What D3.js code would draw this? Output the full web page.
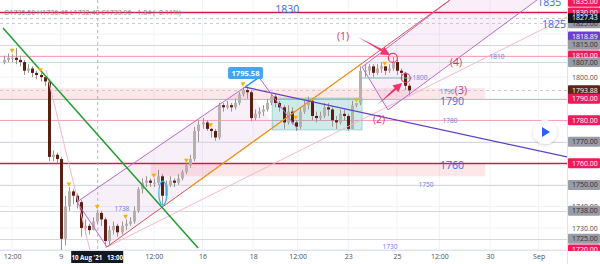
<!DOCTYPE html>
<html>
<head>
<meta charset="utf-8">
<script src="https://cdn.jsdelivr.net/npm/d3@7"></script>
<style>
  body { margin: 0; background: #fff; }
  svg { display: block; font-family: "Open Sans", Roboto, sans-serif; }
</style>
</head>
<body>
<svg id="chart" width="600" height="264"></svg>
<script>
// ---- candles (hourly, gaps removed -> bar index) ----
const firstOpen = 1807;
const closes = [1808,1809,1809,1808,1807,1803,1804,1802,1801,1800,
  1798,1763,1764,1762,1725,1740,1747,1745,1742,1730,
  1731,1729,1733,1737,1734,1724,1729,1731,1728,1731,
  1732,1733,1738,1748,1751,1752,1751,1751,1754,1745,
  1750,1752,1751,1753,1756,1759,1762,1775,1778,1779,
  1776,1775,1772,1787,1786,1787,1786,1788,1792,1794,
  1793,1781,1783,1784,1785,1788,1791,1788,1786,1779,
  1784,1779,1777,1784,1787,1789,1782,1781,1782,1786,
  1785,1780,1779,1783,1782,1776,1787,1788,1803,1803,
  1805,1802,1804,1805,1803,1804,1807,1803,1802,1796,1793.88];
const highs = [1810,1811,1810.5,1813.5,1810,1808,1806,1805,1803,1802,
  1800,1799,1766,1765,1763,1745,1749,1748,1746,1743,
  1734,1732,1735,1738.5,1738,1735,1731,1733,1732,1733,
  1734,1735,1740,1749,1753,1754,1753,1753,1757,1755,
  1752,1754,1753,1755,1757,1760,1764,1777,1780,1781,
  1780,1776.5,1776,1788,1788,1789,1788,1790,1793,1795.4,
  1795.58,1794,1785,1786,1787,1790,1792,1792,1789,1787,
  1787,1786,1780,1786,1789,1791,1790,1784,1784,1788,
  1788,1786,1782,1785,1785,1783,1789,1788,1805,1806,
  1806,1806,1806,1807,1805,1806,1809.3,1808,1804,1802.5,1797];
const lows = [1806,1807,1807,1806,1805,1801,1802,1800,1799,1798,
  1796,1761,1761,1760,1716,1722,1738,1741,1739,1726,
  1727,1727,1729,1732,1731,1721.5,1722,1727,1726,1727,
  1729,1731,1732,1737,1746,1749,1749,1749,1750,1741,
  1744,1749,1749,1750,1752,1755,1758,1761,1770,1776,
  1775,1772,1770.5,1771,1784,1785,1784,1785,1787,1791,
  1790,1779.5,1780,1781,1782,1784,1787,1786,1784,1776,
  1778,1778,1775,1776,1783,1785,1780,1779,1780,1781,
  1782,1777,1776,1778,1780,1775,1776,1786,1787,1800,
  1801,1800,1801,1802,1801,1802,1803,1801,1799,1794,1791];

// pivot markers [bar, price]
const pivots = [[2,1812.5],[9,1803.5],[16,1750.5],[23,1740],[30,1735.5],[37,1754.5],
  [45,1761.5],[51,1778],[59,1797],[72,1781.5],[87,1789.5],[94,1806.5]];

// ---- axes ----
const timeLabels = ["12:00","9","12:00","16","18","12:00","23","25","12:00","30","Sep"];
const timeBars = [2, 14, 37, 49, 61.5, 72.5, 85, 97, 107.5, 120, 132];
const crossBar = 23;
const crossLabel = "10 Aug '21   13:00";
const priceTicks = [1720,1730,1740,1750,1760,1770,1780,1790,1800,1810,1820,1830];
const ohlcText = "O1735.50 H1736.46 L1732.40 C1733.96 −1.84 (−0.11%)";

// ---- horizontal levels ----
const levelPrices = [1830, 1827.43, 1825, 1815, 1810, 1807, 1793.88, 1790, 1780, 1770, 1760, 1750, 1738, 1725, 1720];
const levelKinds  = ["red","dash","dash","grey","pink","grey","dash","pink","pink","grey","red","grey","grey","grey","pink"];
const bandFrom  = [1790, 1754];
const bandTo    = [1794.9, 1760];
const bandStart = [-1, 36.2];
const bandEnd   = [118.8, 118.8];

// ---- price scale boxes ----
const boxPrices = [1835, 1830, 1825, 1827.43, 1818.89, 1815, 1810, 1807, 1793.88, 1790, 1780, 1770, 1760, 1750, 1738, 1725, 1720];
const boxKinds  = ["red","red","grey","black","purple","grey","red","grey","brown","red","red","grey","red","grey","grey","grey","red"];

// ---- level texts ----
const levelTexts  = ["1835","1830","1825","1810","1800","1790","1790","1780","1760","1750","1738","1730"];
const levelTextAt = [[134.6,1834.9],[69.9,1831.6],[135.8,1824.7],[121.7,1809.4],[102.7,1799.6],[109.4,1793.1],
  [110.6,1788.9],[110.1,1779.7],[110.6,1759.2],[104.2,1750],[29.1,1738.8],[95.3,1721.2]];
const levelTextBig = [1,1,1,0,0,0,1,0,1,0,0,0];

const waveTexts = ["(1)","(2)","(3)","(4)"];
const waveAt = [[83.7,1819.1],[92.6,1780.6],[112.8,1794.0],[111.6,1807.0]];

// ---- drawings [bar, price] ----
const greenLine = [[-0.26,1822.8],[47.9,1720.7]];
const redLine = [[25.4,1721.2],[110.1,1835.8]];
const orangeLine = [[45.9,1748.9],[88.4,1806.4]];
const chan1 = [[18.0,1742.1],[25.4,1721.2],[66.9,1777.3],[59.5,1795.4]];
const chan2 = [[88.4,1804.7],[94.8,1784.8],[131.6,1835.8],[110.1,1835.8]];
const indigoLine = [[59.5,1795.4],[139,1763]];
const pinkSteep = [[10.36,1803.3],[21.2,1719.8]];
const pinkShallow = [[24.9,1720.7],[139,1827.9]];
const purpleThin = [[62.7,1800.5],[72.6,1775.5]];
const peakPoint = [59.5,1795.4];
const peakLabel = "1795.58";
const tealBox = [[66.2,1790.3],[88.4,1775.5]];
const midLine = [[88.4,1799.6],[100.7,1799.6]];
const circles = [[96.0,1808.9],[99.2,1799.6]];
const arrows = [[[87.4,1818.6],[95.3,1810.3]], [[92.1,1787.1],[98.3,1797.3]]];
const ellipseAt = [39.2,1746.2];

// ---- layout ----
const W = 600, H = 264, plotW = 567, plotH = 250;
const x = d3.scaleLinear().domain([-1, 139]).range([0, plotW]);
const y = d3.scaleLinear().domain([1719.8, 1835.8]).range([plotH, 0]);
const P = d => [x(d[0]), y(d[1])];

const svg = d3.select("#chart");
svg.append("defs").append("clipPath").attr("id", "plot")
  .append("rect").attr("width", plotW).attr("height", plotH);
svg.select("defs").append("filter").attr("id", "sh")
  .append("feDropShadow").attr("dx", 0).attr("dy", 1).attr("stdDeviation", 1.5).attr("flood-opacity", 0.18);

const g = svg.append("g").attr("clip-path", "url(#plot)");

// grid
g.selectAll(".hg").data(priceTicks).join("line")
  .attr("x1", 0).attr("x2", plotW).attr("y1", d => y(d)).attr("y2", d => y(d))
  .attr("stroke", "#f0f3fa");
g.selectAll(".vg").data(timeBars).join("line")
  .attr("x1", d => x(d)).attr("x2", d => x(d)).attr("y1", 0).attr("y2", plotH)
  .attr("stroke", "#f0f3fa");

// bands
g.selectAll(".band").data(bandFrom).join("rect")
  .attr("x", (d, i) => x(bandStart[i])).attr("width", (d, i) => x(bandEnd[i]) - x(bandStart[i]))
  .attr("y", (d, i) => y(bandTo[i])).attr("height", (d, i) => y(d) - y(bandTo[i]))
  .attr("fill", "rgba(242,54,69,0.12)");

// channel fills
const poly = d3.line().x(d => x(d[0])).y(d => y(d[1]));
g.append("path").attr("d", poly(chan1) + "Z").attr("fill", "rgba(156,39,176,0.07)");
g.append("path").attr("d", poly(chan2) + "Z").attr("fill", "rgba(206,100,190,0.10)");

// levels
const levelStyle = {
  red:  { c: "#d9184e", w: 1.4, dash: null },
  pink: { c: "#f4a6b8", w: 1.2, dash: null },
  grey: { c: "#d6d8de", w: 1, dash: null },
  dash: { c: "#c9cbd2", w: 1, dash: "3,3" }
};
g.selectAll(".lvl").data(levelPrices).join("line")
  .attr("x1", 0).attr("x2", plotW)
  .attr("y1", d => Math.round(y(d)) + 0.5).attr("y2", d => Math.round(y(d)) + 0.5)
  .attr("stroke", (d, i) => levelStyle[levelKinds[i]].c)
  .attr("stroke-width", (d, i) => levelStyle[levelKinds[i]].w)
  .attr("stroke-dasharray", (d, i) => levelStyle[levelKinds[i]].dash);

// teal rectangle
g.append("rect")
  .attr("x", x(tealBox[0][0])).attr("y", y(tealBox[0][1]))
  .attr("width", x(tealBox[1][0]) - x(tealBox[0][0]))
  .attr("height", y(tealBox[1][1]) - y(tealBox[0][1]))
  .attr("fill", "rgba(38,166,154,0.22)").attr("stroke", "rgba(38,166,154,0.35)");

// crosshair
g.append("line").attr("x1", x(crossBar) + 0.5).attr("x2", x(crossBar) + 0.5)
  .attr("y1", 0).attr("y2", plotH).attr("stroke", "#b2b5be").attr("stroke-dasharray", "3,3");

// candles
const opens = closes.map((c, i) => i === 0 ? firstOpen : closes[i - 1]);
const cg = g.append("g");
cg.selectAll(".wick").data(closes).join("line")
  .attr("x1", (d, i) => Math.round(x(i)) + 0.5).attr("x2", (d, i) => Math.round(x(i)) + 0.5)
  .attr("y1", (d, i) => y(highs[i])).attr("y2", (d, i) => y(lows[i]))
  .attr("stroke", "#9e9593");
cg.selectAll(".body").data(closes).join("rect")
  .attr("x", (d, i) => Math.round(x(i)) - 1).attr("width", 3)
  .attr("y", (d, i) => y(Math.max(d, opens[i])))
  .attr("height", (d, i) => Math.max(1, Math.abs(y(d) - y(opens[i]))))
  .attr("fill", (d, i) => d >= opens[i] ? "#b8b0ad" : "#5c1d12");

// lines
const seg = (pts, color, w, dash) => g.append("path").attr("d", poly(pts))
  .attr("fill", "none").attr("stroke", color).attr("stroke-width", w).attr("stroke-dasharray", dash || null);
seg(pinkSteep, "#f7b6c8", 1);
seg(pinkShallow, "#f7b6c8", 1);
seg([chan1[3], chan1[0], chan1[1]], "#b86ad0", 1);
seg([chan2[3], chan2[0], chan2[1], chan2[2]], "#b86ad0", 1);
seg(redLine, "#e05050", 1);
seg(orangeLine, "#f39c12", 1.2);
seg(greenLine, "#1e9e2e", 1.5);
seg(indigoLine, "#5e3fc4", 1.2);
seg(purpleThin, "#b86ad0", 1);
seg(midLine, "#86b8b2", 1.2);
seg([peakPoint, [62.7, 1799.6]], "#2196f3", 1.5);

// cyan ellipse
g.append("ellipse").attr("cx", x(ellipseAt[0])).attr("cy", y(ellipseAt[1]))
  .attr("rx", 4).attr("ry", 12).attr("fill", "none").attr("stroke", "#29b6f6").attr("stroke-width", 1.2);

// pivots
g.selectAll(".pv").data(pivots).join("path")
  .attr("d", d3.symbol(d3.symbolTriangle, 10))
  .attr("transform", d => `translate(${x(d[0])},${y(d[1])}) rotate(180)`)
  .attr("fill", "#f5b400");

// circles and arrows
g.selectAll(".cir").data(circles).join("circle")
  .attr("cx", d => x(d[0])).attr("cy", d => y(d[1])).attr("r", 4.5)
  .attr("fill", "none").attr("stroke", "#ef3b6a").attr("stroke-width", 1.2);
arrows.forEach(a => {
  const [x1, y1] = P(a[0]), [x2, y2] = P(a[1]);
  const ang = Math.atan2(y2 - y1, x2 - x1), L = 9, Wd = 4.5;
  const s = Math.sin(ang), c = Math.cos(ang);
  const bx = x2 - L * c, by = y2 - L * s;
  g.append("path")
    .attr("d", `M${x1},${y1}L${bx - 1.2 * s},${by + 1.2 * c}L${bx - Wd * s},${by + Wd * c}L${x2},${y2}L${bx + Wd * s},${by - Wd * c}L${bx + 1.2 * s},${by - 1.2 * c}Z`)
    .attr("fill", "#f0356a");
});

// peak label
const [px, py] = P(peakPoint);
g.append("rect").attr("x", px - 17).attr("y", py - 20).attr("width", 35).attr("height", 12).attr("rx", 2)
  .attr("fill", "#42a5f5");
g.append("text").attr("x", px + 0.5).attr("y", py - 11.5).attr("text-anchor", "middle")
  .attr("font-size", 7.5).attr("font-weight", 700).attr("fill", "#fff").text(peakLabel);

// level texts
g.selectAll(".lt").data(levelTexts).join("text")
  .attr("x", (d, i) => x(levelTextAt[i][0])).attr("y", (d, i) => y(levelTextAt[i][1]))
  .attr("dy", "0.35em").attr("text-anchor", "middle")
  .attr("font-size", (d, i) => levelTextBig[i] ? 10.5 : 6.5)
  .attr("fill", (d, i) => levelTextBig[i] ? "#3d6be0" : "#5a7fe0").text(d => d);

g.selectAll(".wt").data(waveTexts).join("text")
  .attr("x", (d, i) => x(waveAt[i][0])).attr("y", (d, i) => y(waveAt[i][1]))
  .attr("dy", "0.35em").attr("text-anchor", "middle").attr("font-size", 10.5)
  .attr("fill", "#d6336c").text(d => d);

// ohlc header
svg.append("text").attr("x", 4).attr("y", 15).attr("font-size", 7).attr("fill", "#8a7d7d").text(ohlcText);

// play button
svg.append("circle").attr("cx", 545).attr("cy", 132).attr("r", 12).attr("fill", "#fff").attr("filter", "url(#sh)");
svg.append("path").attr("d", "M542,127L550,132L542,137Z").attr("fill", "#2962ff");

// price axis (plain labels only where no price box sits on them)
svg.append("line").attr("x1", plotW + 0.5).attr("x2", plotW + 0.5).attr("y1", 0).attr("y2", H).attr("stroke", "#e0e3eb");
svg.append("line").attr("x1", 0).attr("x2", W).attr("y1", plotH + 0.5).attr("y2", plotH + 0.5).attr("stroke", "#e0e3eb");
const freeTicks = priceTicks.filter(t => boxPrices.every(b => Math.abs(y(b) - y(t)) > 4));
const ya = svg.append("g").attr("transform", `translate(${plotW},0)`)
  .call(d3.axisRight(y).tickValues(freeTicks).tickFormat(d3.format(".2f")).tickSize(0).tickPadding(5));
ya.select(".domain").remove();
ya.selectAll("text").attr("font-size", 7).attr("fill", "#4a4e59").attr("font-family", "'Open Sans', sans-serif");

const boxStyle = {
  red: ["#f0195c", "#fff"], grey: ["#9a9ca5", "#2a2e39"], black: ["#131722", "#fff"],
  purple: ["#6a3fd0", "#fff"], brown: ["#5c2615", "#fff"]
};
const bx = svg.append("g");
bx.selectAll("rect").data(boxPrices).join("rect")
  .attr("x", plotW + 1).attr("width", W - plotW - 1)
  .attr("y", d => y(d) - 5).attr("height", 10).attr("rx", 1)
  .attr("fill", (d, i) => boxStyle[boxKinds[i]][0]);
bx.selectAll("text").data(boxPrices).join("text")
  .attr("x", plotW + 5).attr("y", d => y(d)).attr("dy", "0.35em")
  .attr("font-size", 7).attr("fill", (d, i) => boxStyle[boxKinds[i]][1]).text(d => d3.format(".2f")(d));
svg.append("rect").attr("x", plotW + 1).attr("y", plotH + 1).attr("width", W - plotW).attr("height", H - plotH).attr("fill", "#fff");

// time axis
const xa = svg.append("g").attr("transform", `translate(0,${plotH})`)
  .call(d3.axisBottom(x).tickValues(timeBars).tickFormat((d, i) => timeLabels[i]).tickSize(0).tickPadding(4));
xa.select(".domain").remove();
xa.selectAll("text").attr("font-size", 7).attr("fill", "#4a4e59").attr("font-family", "'Open Sans', sans-serif");

// crosshair time label
const cx = x(crossBar);
svg.append("rect").attr("x", cx - 26).attr("y", plotH + 1).attr("width", 52).attr("height", 12).attr("fill", "#131722");
svg.append("text").attr("x", cx).attr("y", plotH + 9.5).attr("text-anchor", "middle").attr("font-size", 6.2)
  .attr("font-weight", 700).attr("fill", "#fff").attr("xml:space", "preserve").style("white-space", "pre").text(crossLabel);
</script>
</body>
</html>
